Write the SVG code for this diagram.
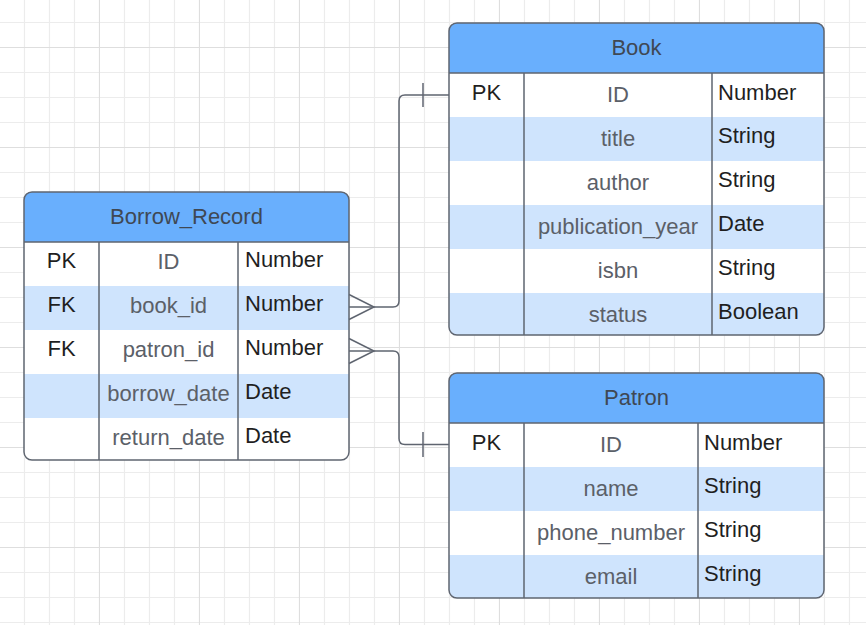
<svg xmlns="http://www.w3.org/2000/svg" width="866" height="625" viewBox="0 0 866 625">
<defs>
<pattern id="grid" patternUnits="userSpaceOnUse" x="0" y="0" width="100" height="100">
<path d="M24.5,0V100M49.5,0V100M74.5,0V100M0,22.5H100M0,72.5H100M0,97.5H100" stroke="#ececec" stroke-width="1.2" fill="none"/>
<path d="M99.5,0V100M0,47.5H100" stroke="#dedede" stroke-width="1.2" fill="none"/>
</pattern>
</defs>
<style>
.hdr{fill:#69affd}
.alt{fill:#cfe4fd}
.bg{fill:#ffffff}
.frame{fill:none;stroke:#5f6570;stroke-width:1.5}
.ln{stroke:#5f6570;stroke-width:1.5;fill:none}
text{font-family:"Liberation Sans",Arial,sans-serif;font-size:22px}
.title{fill:#3f4854;text-anchor:middle}
.key{fill:#1f1f1f;text-anchor:middle}
.fld{fill:#5b6068;text-anchor:middle}
.typ{fill:#1f1f1f}
.conn{stroke:#5f6570;stroke-width:1.5;fill:none}
</style>
<rect width="866" height="625" fill="#ffffff"/>
<rect width="866" height="625" fill="url(#grid)"/>

<g id="borrow_record">
<rect class="bg" x="24" y="192" width="325" height="268" rx="8"/>
<path class="hdr" d="M24,242V200Q24,192 32,192H341Q349,192 349,200V242Z"/>
<rect class="alt" x="24" y="286" width="325" height="44"/>
<rect class="alt" x="24" y="374" width="325" height="44"/>
<rect class="frame" x="24" y="192" width="325" height="268" rx="8"/>
<path class="ln" d="M24,242H349M99,242V460M238,242V460"/>
<text class="title" x="186.5" y="224">Borrow_Record</text>
<text class="key" x="61.5" y="268">PK</text>
<text class="fld" x="168.5" y="269">ID</text>
<text class="typ" x="245" y="267">Number</text>
<text class="key" x="61.5" y="312">FK</text>
<text class="fld" x="168.5" y="313">book_id</text>
<text class="typ" x="245" y="311">Number</text>
<text class="key" x="61.5" y="356">FK</text>
<text class="fld" x="168.5" y="357">patron_id</text>
<text class="typ" x="245" y="355">Number</text>
<text class="fld" x="168.5" y="401">borrow_date</text>
<text class="typ" x="245" y="399">Date</text>
<text class="fld" x="168.5" y="444.5">return_date</text>
<text class="typ" x="245" y="443">Date</text>
</g>

<g id="book">
<rect class="bg" x="449" y="23" width="375" height="312" rx="8"/>
<path class="hdr" d="M449,73V31Q449,23 457,23H816Q824,23 824,31V73Z"/>
<rect class="alt" x="449" y="117" width="375" height="44"/>
<rect class="alt" x="449" y="205" width="375" height="44"/>
<path class="alt" d="M449,293H824V327Q824,335 816,335H457Q449,335 449,327Z"/>
<rect class="frame" x="449" y="23" width="375" height="312" rx="8"/>
<path class="ln" d="M449,73H824M524,73V335M712,73V335"/>
<text class="title" x="636.5" y="55">Book</text>
<text class="key" x="486.5" y="99.5">PK</text>
<text class="fld" x="618" y="102">ID</text>
<text class="typ" x="718" y="100">Number</text>
<text class="fld" x="618" y="146">title</text>
<text class="typ" x="718" y="143">String</text>
<text class="fld" x="618" y="190">author</text>
<text class="typ" x="718" y="187">String</text>
<text class="fld" x="618" y="234">publication_year</text>
<text class="typ" x="718" y="231">Date</text>
<text class="fld" x="618" y="278">isbn</text>
<text class="typ" x="718" y="275">String</text>
<text class="fld" x="618" y="322">status</text>
<text class="typ" x="718" y="319">Boolean</text>
</g>

<g id="patron">
<rect class="bg" x="449" y="373" width="375" height="225" rx="8"/>
<path class="hdr" d="M449,423V381Q449,373 457,373H816Q824,373 824,381V423Z"/>
<rect class="alt" x="449" y="467" width="375" height="44"/>
<path class="alt" d="M449,555H824V590Q824,598 816,598H457Q449,598 449,590Z"/>
<rect class="frame" x="449" y="373" width="375" height="225" rx="8"/>
<path class="ln" d="M449,423H824M524,423V598M698,423V598"/>
<text class="title" x="636.5" y="405">Patron</text>
<text class="key" x="486.5" y="449.5">PK</text>
<text class="fld" x="611" y="452">ID</text>
<text class="typ" x="704" y="450">Number</text>
<text class="fld" x="611" y="496">name</text>
<text class="typ" x="704" y="493">String</text>
<text class="fld" x="611" y="540">phone_number</text>
<text class="typ" x="704" y="537">String</text>
<text class="fld" x="611" y="584">email</text>
<text class="typ" x="704" y="581">String</text>
</g>

<g id="connectors">
<path class="conn" d="M349,307H393Q399,307 399,301V101Q399,95 405,95H449"/>
<path class="conn" d="M349,294.5L374,307L349,319.5"/>
<path class="conn" d="M423,83V107"/>
<path class="conn" d="M349,351H393Q399,351 399,357V438.5Q399,444.5 405,444.5H449"/>
<path class="conn" d="M349,338.5L374,351L349,363.5"/>
<path class="conn" d="M423,432V457"/>
</g>
</svg>
